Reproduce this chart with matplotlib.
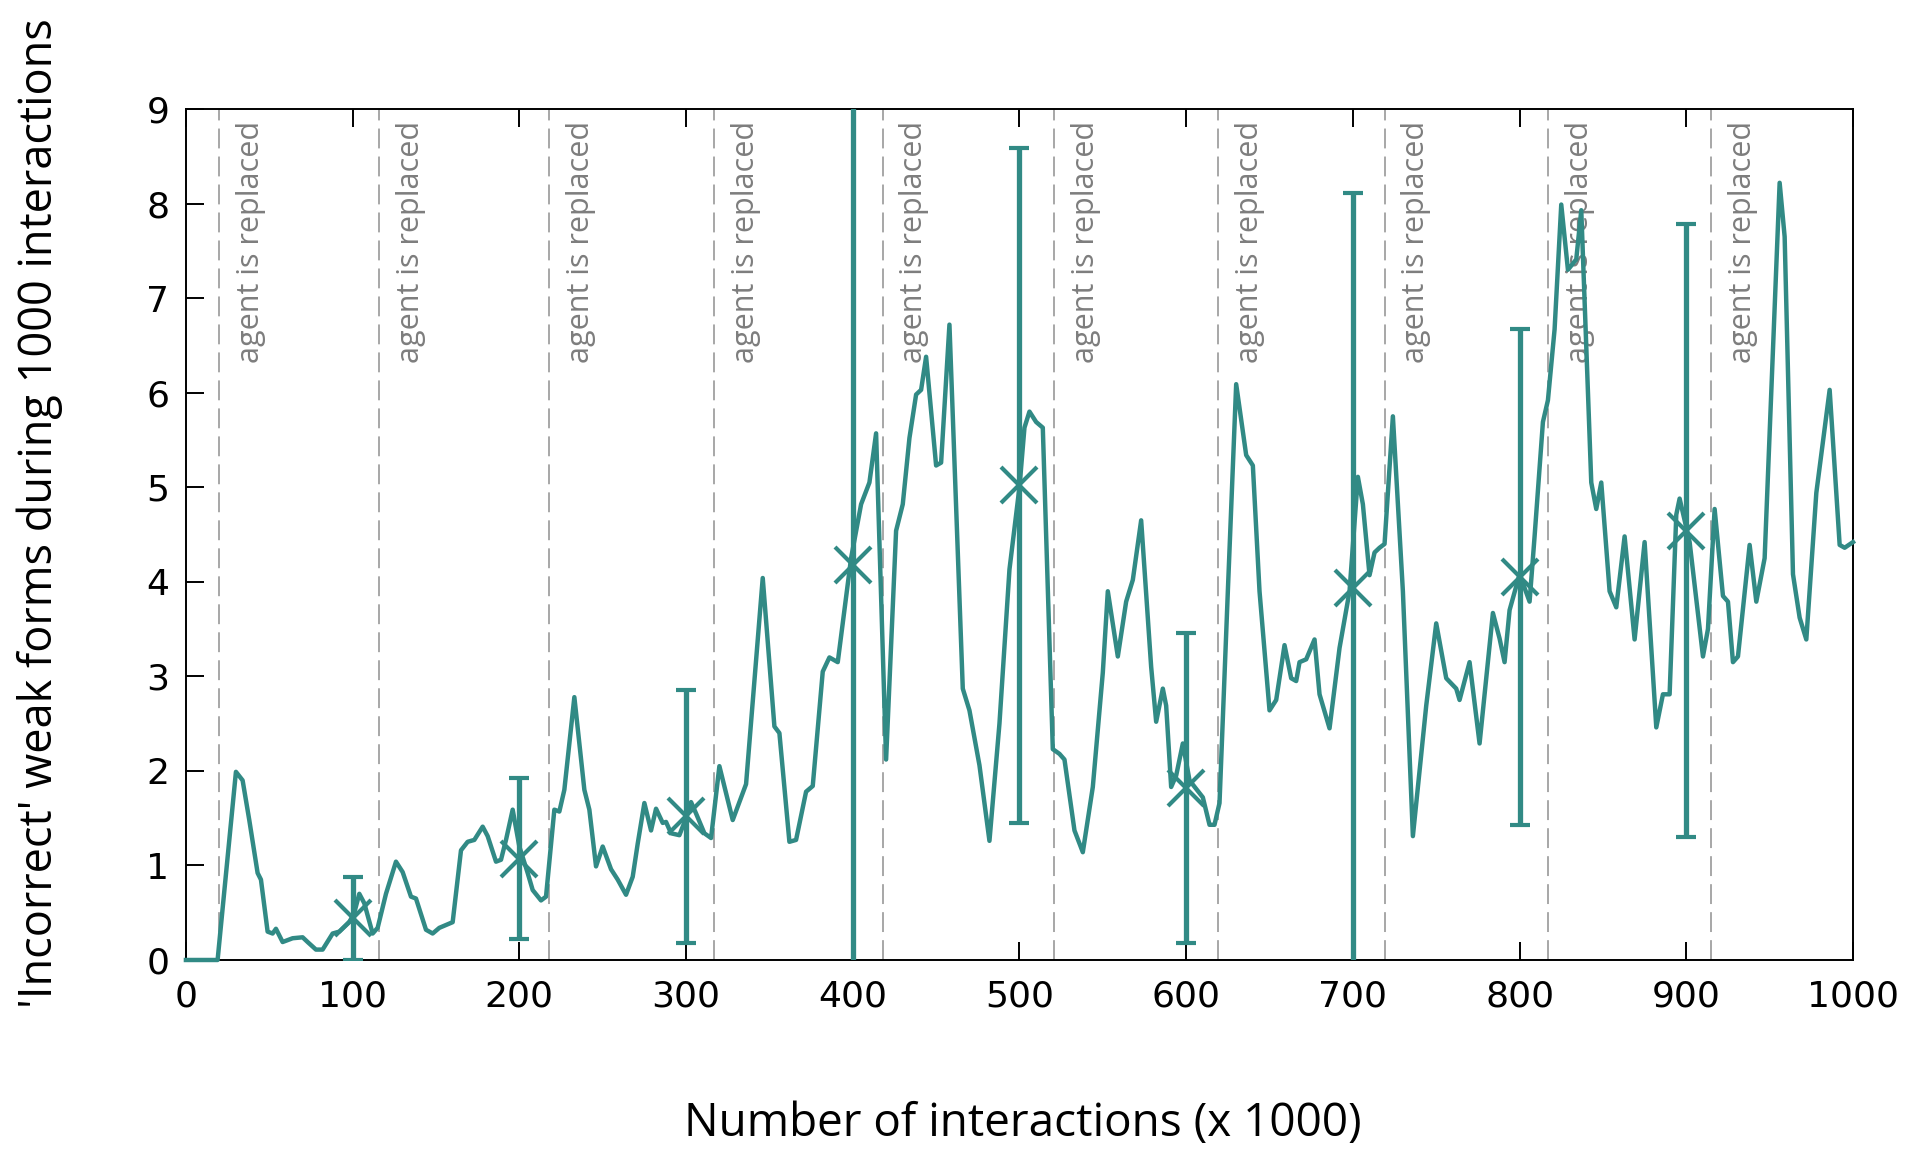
import numpy as np
import matplotlib
matplotlib.use("Agg")
import matplotlib.pyplot as plt

# averaged count of 'incorrect' weak forms per 1000 interactions
steps = [0, 19, 30, 34, 38, 43, 45, 49, 52, 54, 58, 64, 70, 73, 78, 82, 88, 92, 98,
         101, 104, 107, 112, 115, 120, 126, 130, 135, 138, 144, 148, 152, 156, 160,
         165, 169, 173, 178, 181, 186, 189, 192, 196, 200, 205, 208, 213, 216, 221,
         224, 227, 233, 239, 242, 246, 250, 255, 259, 264, 268, 271, 275, 279, 282,
         286, 288, 291, 296, 300, 303, 306, 311, 315, 320, 328, 336, 346, 353, 356,
         362, 366, 372, 376, 382, 386, 391, 399, 405, 410, 414, 420, 426, 430, 434,
         438, 441, 444, 450, 453, 458, 466, 470, 476, 482, 488, 494, 500, 503, 506,
         510, 514, 520, 524, 527, 533, 538, 544, 550, 553, 559, 564, 568, 573, 579,
         582, 586, 588, 591, 594, 598, 602, 610, 614, 617, 620, 625, 630, 636, 640,
         644, 650, 654, 659, 663, 666, 668, 672, 677, 680, 686, 692, 698, 703, 706,
         710, 713, 716, 719, 724, 730, 736, 744, 750, 756, 762, 764, 770, 776, 784,
         788, 791, 794, 800, 806, 809, 814, 817, 821, 825, 829, 834, 837, 843, 846,
         849, 854, 858, 863, 869, 875, 882, 886, 890, 894, 896, 902, 910, 913, 917,
         922, 925, 928, 931, 938, 942, 947, 956, 959, 964, 968, 972, 978, 986, 992,
         995, 1000]
counts = [0.00, 0.00, 1.99, 1.90, 1.48, 0.92, 0.85, 0.30, 0.28, 0.33, 0.19, 0.23,
          0.24, 0.19, 0.11, 0.11, 0.28, 0.30, 0.40, 0.50, 0.70, 0.60, 0.28, 0.34,
          0.70, 1.04, 0.93, 0.67, 0.65, 0.32, 0.28, 0.34, 0.37, 0.40, 1.16, 1.25,
          1.27, 1.41, 1.31, 1.04, 1.06, 1.27, 1.59, 1.20, 0.92, 0.74, 0.63, 0.67,
          1.59, 1.57, 1.80, 2.78, 1.80, 1.59, 0.99, 1.20, 0.96, 0.85, 0.69, 0.88,
          1.23, 1.66, 1.37, 1.60, 1.45, 1.46, 1.34, 1.32, 1.50, 1.67, 1.55, 1.34,
          1.29, 2.05, 1.48, 1.86, 4.04, 2.47, 2.40, 1.25, 1.27, 1.78, 1.84, 3.05,
          3.20, 3.15, 4.25, 4.82, 5.05, 5.57, 2.12, 4.54, 4.82, 5.52, 5.98, 6.03,
          6.38, 5.23, 5.26, 6.72, 2.87, 2.64, 2.06, 1.26, 2.50, 4.13, 5.00, 5.63,
          5.80, 5.69, 5.63, 2.23, 2.18, 2.12, 1.37, 1.14, 1.83, 3.04, 3.90, 3.21,
          3.79, 4.02, 4.65, 3.10, 2.52, 2.87, 2.69, 1.83, 1.95, 2.29, 1.90, 1.72,
          1.43, 1.43, 1.66, 3.90, 6.09, 5.34, 5.23, 3.90, 2.64, 2.75, 3.33, 2.98,
          2.95, 3.15, 3.18, 3.39, 2.81, 2.45, 3.30, 3.90, 5.11, 4.82, 4.07, 4.31,
          4.36, 4.40, 5.75, 3.90, 1.31, 2.69, 3.56, 2.98, 2.87, 2.75, 3.15, 2.29,
          3.67, 3.40, 3.15, 3.70, 4.08, 3.79, 4.48, 5.69, 5.92, 6.67, 7.99, 7.30,
          7.41, 7.93, 5.05, 4.77, 5.05, 3.90, 3.73, 4.48, 3.39, 4.42, 2.46, 2.81,
          2.81, 4.71, 4.88, 4.42, 3.21, 3.50, 4.77, 3.85, 3.79, 3.15, 3.21, 4.39,
          3.79, 4.25, 8.22, 7.65, 4.08, 3.62, 3.39, 4.94, 6.03, 4.39, 4.36, 4.42]

# mean and standard deviation every 100 000 interactions
bar_x = [100, 200, 300, 400, 500, 600, 700, 800, 900]
bar_mean = [0.44, 1.07, 1.52, 4.18, 5.02, 1.82, 3.93, 4.05, 4.54]
bar_std = [0.44, 0.85, 1.34, 5.00, 3.57, 1.64, 4.18, 2.62, 3.24]

# moments where an agent in the population gets replaced
replaced = [20, 116, 218, 317, 418, 521, 619, 719, 817, 915]

teal = '#318a85'

fig = plt.figure(figsize=(19.05, 11.49), dpi=100)
ax = fig.add_axes([0.0976, 0.1645, 0.8751, 0.7406])

for r in replaced:
    ax.axvline(r, color='#a0a0a0', lw=1.3, dashes=(11, 4.5), zorder=1)
    ax.text(r + 19, 8.87, 'agent is replaced', rotation=90, ha='center', va='top',
            color='#7d7d7d', fontsize=22, family=['Open Sans', 'DejaVu Sans'])

ax.plot(steps, counts, color=teal, lw=3.2, zorder=3, clip_on=False)
ax.errorbar(bar_x, bar_mean, yerr=bar_std, fmt='x', color=teal, ms=26, mew=3,
            elinewidth=3.8, capsize=7, capthick=3.8, zorder=4)

ax.set_xlim(0, 1000)
ax.set_ylim(0, 9)
ax.set_xticks(np.arange(0, 1001, 100))
ax.set_yticks(np.arange(0, 10, 1))
ax.tick_params(direction='in', length=13, width=1.4, labelsize=26, top=True,
               right=False, pad=12)
ax.tick_params(axis='x', pad=14)
for lab in ax.get_xticklabels() + ax.get_yticklabels():
    lab.set_family('DejaVu Sans')
for s in ax.spines.values():
    s.set_linewidth(1.4)

fig.text(0.537, 0.022, 'Number of interactions (x 1000)', ha='center', va='center',
         fontsize=33, family=['Open Sans', 'DejaVu Sans'])
fig.text(0.021, 0.5535, "'Incorrect' weak forms during 1000 interactions", rotation=90,
         ha='center', va='center', fontsize=32.5, family=['Open Sans', 'DejaVu Sans'])

plt.savefig('out.png', dpi=100)
